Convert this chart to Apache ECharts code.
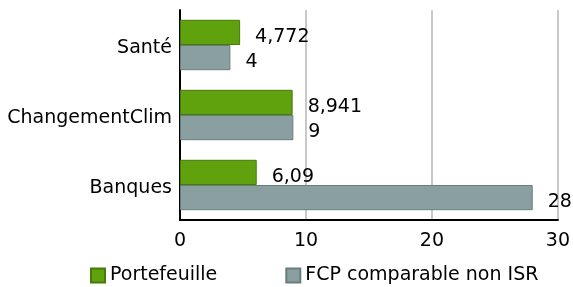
<!DOCTYPE html>
<html>
<head>
    <meta charset="utf-8">
    <title>ECharts</title>
    <script src="https://cdn.jsdelivr.net/npm/echarts@6/dist/echarts.min.js"></script>
</head>
<body style="margin:0">

<div id="main" style="width: 573px;height:287px;"></div>

<script type="text/javascript">
    // données
    var categories = ['Banques', 'ChangementClim', 'Santé'];
    var portefeuille = [6.09, 8.941, 4.772];
    var fcpNonIsr = [28, 9, 4];
    var xTicks = [0, 10, 20, 30];

    var myChart = echarts.init(document.getElementById('main'));

    var font = 'DejaVu Sans';
    function virgule(p) {
        return String(p.value).replace('.', ',');
    }

    myChart.setOption({
        textStyle: { fontFamily: font },
        animation: false,
        grid: { left: 180, right: 11, top: 10, bottom: 67 },
        legend: {
            data: ['Portefeuille', 'FCP comparable non ISR'],
            bottom: -3,
            left: 85,
            icon: 'rect',
            itemWidth: 14,
            itemHeight: 14,
            itemGap: 68,
            textStyle: { fontSize: 19, color: '#000', fontFamily: font }
        },
        xAxis: {
            type: 'value',
            min: xTicks[0],
            max: xTicks[xTicks.length - 1],
            interval: 10,
            axisLine: { show: true, lineStyle: { color: '#000', width: 2 } },
            axisTick: { show: false },
            splitLine: { lineStyle: { color: '#c8c8c8', width: 2 } },
            axisLabel: { fontSize: 19, color: '#000', margin: 12 }
        },
        yAxis: {
            type: 'category',
            data: categories,
            axisLine: { lineStyle: { color: '#000', width: 2 } },
            axisTick: { show: false },
            axisLabel: {
                color: '#000', margin: 8,
                formatter: function (v) { return '{c|' + v + '}'; },
                rich: { c: { fontSize: 19, color: '#000', fontFamily: font, padding: [6, 0, 0, 0] } }
            }
        },
        series: [{
            name: 'Portefeuille',
            type: 'bar',
            data: portefeuille,
            barGap: '0%',
            barCategoryGap: '28%',
            itemStyle: { color: '#5fa20e', borderColor: '#477a08', borderWidth: 1 },
            label: {
                show: true, position: 'right', distance: 15, offset: [0, 5],
                fontSize: 19, color: '#000', formatter: virgule
            }
        }, {
            name: 'FCP comparable non ISR',
            type: 'bar',
            data: fcpNonIsr,
            barGap: '0%',
            barCategoryGap: '28%',
            itemStyle: { color: '#8aa0a0', borderColor: '#687e7e', borderWidth: 1 },
            label: {
                show: true, position: 'right', distance: 15, offset: [0, 4],
                fontSize: 19, color: '#000', formatter: virgule
            }
        }]
    });
</script>
</body>
</html>
